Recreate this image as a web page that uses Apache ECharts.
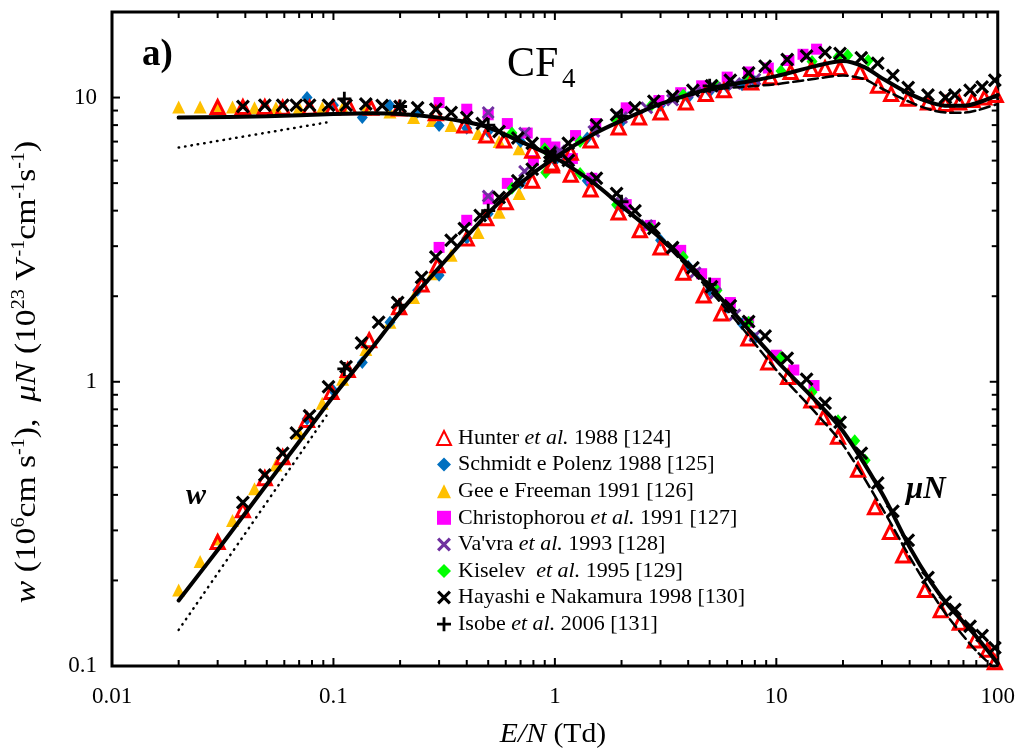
<!DOCTYPE html>
<html>
<head>
<meta charset="utf-8">
<script src="https://cdn.jsdelivr.net/npm/echarts@6/dist/echarts.min.js"></script>
<style>
html,body{margin:0;padding:0;background:#fff;}
#chart{width:1018px;height:751px;}
</style>
</head>
<body>
<div id="chart"></div>
<script>
// ---------- tick values ----------
var xMajorTicks = [0.01, 0.1, 1, 10, 100];
var xMinorTicks = [0.02,0.03,0.04,0.05,0.06,0.07,0.08,0.09,0.2,0.3,0.4,0.5,0.6,0.7,0.8,0.9,2,3,4,5,6,7,8,9,20,30,40,50,60,70,80,90];
var yMajorTicks = [0.1, 1, 10];
var yMinorTicks = [0.2,0.3,0.4,0.5,0.6,0.7,0.8,0.9,2,3,4,5,6,7,8,9];

// ---------- calculated curves ----------
var wCalc = [[0.02,0.17],[0.03,0.256],[0.05,0.435],[0.07,0.615],[0.1,0.89],[0.15,1.32],[0.2,1.76],[0.3,2.52],[0.5,3.92],[0.7,5.0],[1,6.15],[1.5,7.45],[2,8.3],[3,9.5],[5,10.75],[7,11.3],[10,11.9],[15,12.9],[20,13.45],[25,12.8],[30,11.7],[40,10.3],[50,9.6],[60,9.35],[70,9.35],[80,9.55],[100,10.2]];
var muCalc = [[0.02,8.5],[0.05,8.6],[0.1,8.75],[0.15,8.8],[0.2,8.75],[0.3,8.5],[0.4,8.2],[0.5,7.85],[0.7,7.0],[1,6.15],[1.5,5.0],[2,4.15],[3,3.2],[5,2.17],[7,1.62],[10,1.19],[15,0.86],[20,0.67],[30,0.405],[40,0.262],[50,0.197],[60,0.163],[80,0.127],[100,0.102]];
var wDashed = [[3,9.5],[5,10.6],[7,10.9],[10,11.15],[15,11.65],[20,11.95],[25,11.6],[30,10.75],[40,9.65],[50,9.05],[60,8.85],[70,8.85],[80,9.0],[100,9.5]];
var muDashed = [[3,3.18],[5,2.1],[7,1.55],[10,1.1],[15,0.78],[20,0.6],[30,0.36],[40,0.242],[50,0.182],[60,0.148],[80,0.113],[100,0.096]];
var wLowField = [[0.02,0.134],[0.093,0.76]];
var muLowField = [[0.02,6.67],[0.093,8.17]];

// ---------- measured data ----------
var hunterW = [[0.03,0.273],[0.039,0.353],[0.049,0.458],[0.059,0.543],[0.076,0.733],[0.098,0.92],[0.116,1.10],[0.145,1.40],[0.198,1.83],[0.25,2.2],[0.295,2.57],[0.4,3.19],[0.49,3.76],[0.6,4.28],[0.79,5.1],[0.97,5.77],[1.18,6.4],[1.45,7.06],[1.94,7.85],[2.4,8.5],[3.0,8.86],[3.9,9.6],[4.8,10.3],[5.8,10.6],[7.7,11.3],[9.4,11.8],[11.6,12.3],[14.4,12.6],[16.6,12.7],[19.4,12.7],[23.9,12.3],[28.8,11.0],[33,10.3],[39.3,9.9],[48.4,9.6],[58,9.5],[67,9.6],[77,9.8],[87,10.0],[98,10.2]];
var hunterMu = [[0.03,9.26],[0.039,9.26],[0.049,9.26],[0.059,9.2],[0.078,9.2],[0.099,9.2],[0.118,9.25],[0.148,9.2],[0.198,9.15],[0.29,8.8],[0.39,7.97],[0.49,7.35],[0.59,7.06],[0.79,6.5],[0.97,5.86],[1.18,5.35],[1.45,4.75],[1.94,3.94],[2.42,3.41],[3.0,2.97],[3.8,2.42],[4.7,2.01],[5.65,1.74],[7.48,1.42],[9.2,1.17],[11.3,1.04],[14.4,0.86],[16.3,0.75],[19,0.64],[23.4,0.49],[27.9,0.362],[32.6,0.296],[37.4,0.245],[46.9,0.185],[55.3,0.157],[67.4,0.142],[78.8,0.123],[90,0.114],[97,0.103]];
var schmidtW = [[0.076,0.74],[0.1,0.93],[0.135,1.17],[0.18,1.62],[0.24,2.1],[0.3,2.37],[0.4,3.2],[0.5,3.9],[0.7,5.0],[1.0,6.0],[1.4,7.2],[2,8.2],[3,9.4],[4,10.0],[5,10.5],[6,10.9],[7,11.1],[8,11.4]];
var schmidtMu = [[0.076,10.0],[0.1,9.4],[0.135,8.5],[0.18,9.37],[0.24,8.9],[0.3,7.97],[0.4,7.8],[0.5,7.6],[0.7,7.0],[1.0,6.0],[1.4,5.1],[2,4.1],[3,3.15],[4,2.55],[5,2.1],[6,1.83],[7,1.6],[8,1.42]];
var geeW = [[0.02,0.185],[0.025,0.233],[0.03,0.28],[0.035,0.325],[0.044,0.42],[0.055,0.51],[0.07,0.66],[0.089,0.84],[0.11,1.02],[0.14,1.3],[0.18,1.62],[0.23,1.98],[0.28,2.4],[0.34,2.79],[0.45,3.35],[0.56,3.95],[0.69,4.6]];
var geeMu = [[0.02,9.26],[0.025,9.26],[0.03,9.26],[0.035,9.26],[0.044,9.2],[0.055,9.2],[0.07,9.2],[0.089,9.2],[0.11,9.2],[0.14,9.1],[0.18,8.9],[0.23,8.5],[0.28,8.3],[0.34,7.97],[0.45,7.47],[0.56,7.0],[0.69,6.6]];
var christoW = [[0.3,2.97],[0.4,3.7],[0.5,4.4],[0.61,4.99],[0.8,6.0],[1.0,6.7],[1.24,7.35],[1.53,8.1],[2.1,9.2],[2.95,9.76],[3.7,10.4],[4.6,11.0],[6,11.8],[7.5,12.3],[9.2,12.7],[11.4,13.5],[13.2,14.2],[15.2,14.8]];
var christoMu = [[0.3,9.6],[0.4,9.1],[0.5,8.7],[0.61,8.1],[0.75,7.5],[0.91,6.9],[1.2,6.1],[1.47,5.2],[2.1,4.2],[2.7,3.55],[3.7,2.9],[4.6,2.4],[5.3,2.22],[6.2,1.9],[7.5,1.62],[10,1.24],[12,1.1],[14.8,0.97]];
var vavraW = [[0.5,4.5],[0.73,5.5],[1.05,6.5],[1.5,7.6],[2,8.5],[2.6,9.2],[3.4,9.8],[4.3,10.4],[5.3,10.8],[6.5,11.2],[8,11.6]];
var vavraMu = [[0.5,8.86],[0.73,7.5],[1.05,6.3],[1.5,5.05],[2,4.25],[2.6,3.55],[3.4,2.95],[4.3,2.42],[5.3,2.05],[6.5,1.72],[8,1.45]];
var kiselevW = [[0.64,4.8],[0.91,5.45],[1.3,7.0],[1.9,8.3],[2.7,9.3],[3.8,10.2],[5.4,11.0],[7.5,11.7],[10.5,12.4],[14.5,13.4],[19,13.9],[21,14.1],[26,13.5]];
var kiselevMu = [[0.64,7.5],[0.9,6.6],[1.3,5.4],[1.9,4.2],[2.7,3.5],[3.8,2.75],[5.4,2.1],[7.5,1.62],[10.5,1.22],[14.5,0.92],[19,0.73],[22.6,0.62],[25.2,0.53]];
var hayashiW = [[0.039,0.376],[0.049,0.47],[0.059,0.56],[0.068,0.66],[0.078,0.76],[0.095,0.96],[0.114,1.13],[0.134,1.37],[0.16,1.62],[0.195,1.9],[0.25,2.33],[0.29,2.75],[0.34,3.15],[0.39,3.46],[0.46,3.85],[0.56,4.45],[0.68,5.1],[0.79,5.6],[0.95,6.2],[1.15,6.9],[1.54,8.0],[1.9,8.7],[2.3,9.2],[2.8,9.7],[3.4,10.1],[4.2,10.6],[5.1,11.0],[6.2,11.5],[7.5,12.2],[8.9,12.9],[11.2,13.6],[13.7,14.0],[16.6,14.4],[19.4,14.3],[24.2,13.8],[28.7,13.2],[33.6,11.95],[39.4,10.85],[48.4,10.2],[58,10.0],[64,10.2],[75,10.6],[85,10.9],[97,11.5]];
var hayashiMu = [[0.039,9.3],[0.049,9.4],[0.059,9.4],[0.068,9.4],[0.078,9.4],[0.095,9.4],[0.114,9.4],[0.14,9.5],[0.166,9.37],[0.2,9.3],[0.24,9.2],[0.29,9.1],[0.34,8.86],[0.4,8.5],[0.47,8.1],[0.56,7.6],[0.68,7.2],[0.79,6.9],[0.95,6.4],[1.15,6.0],[1.54,5.2],[1.9,4.6],[2.3,4.0],[2.8,3.46],[3.4,2.97],[4.2,2.52],[5.1,2.16],[6.2,1.85],[7.5,1.63],[8.9,1.45],[11.2,1.21],[13.7,1.02],[16.6,0.84],[19.4,0.72],[24.2,0.56],[28.7,0.44],[33.6,0.35],[39.4,0.277],[48.4,0.205],[58,0.168],[64,0.158],[75,0.138],[85,0.128],[97,0.116]];
var isobeW = [[0.112,1.11],[0.2,1.86],[0.5,4.0],[1,6.2],[2,8.6],[5,11.0]];
var isobeMu = [[0.112,9.9],[0.2,9.3],[0.5,8.0],[1,6.2],[2,4.3],[5,2.2]];

var legendNames = [
  'Hunter et al. 1988 [124]',
  'Schmidt e Polenz 1988 [125]',
  'Gee e Freeman 1991 [126]',
  'Christophorou et al. 1991 [127]',
  "Va'vra et al. 1993 [128]",
  'Kiselev  et al. 1995 [129]',
  'Hayashi e Nakamura 1998 [130]',
  'Isobe et al. 2006 [131]'
];

var SERIF = 'Liberation Serif, Times New Roman, serif';
var X_SYM = 'path://M0,1.6L1.6,0L5,3.4L8.4,0L10,1.6L6.6,5L10,8.4L8.4,10L5,6.6L1.6,10L0,8.4L3.4,5Z';
var PLUS_SYM = 'path://M4,0H6V4H10V6H6V10H4V6H0V4H4Z';
var XMIN = 0.01, XMAX = 100, YMIN = 0.1, YMAX = 20;

function scatter(name, data, symbol, size, itemStyle, z) {
  itemStyle.opacity = 1;
  return {type:'scatter', name:name, data:data, symbol:symbol, symbolSize:size,
    itemStyle:itemStyle, z:z||2, silent:true};
}
function line(data, width, type, z) {
  return {type:'line', data:data, showSymbol:false, symbol:'none', smooth:0.3, silent:true,
    lineStyle:{color:'#000', width:width, type:type, cap:'round'}, z:z||5};
}
var xTickData = xMajorTicks.map(function(v){return [v, YMIN, 1];}).concat(xMinorTicks.map(function(v){return [v, YMIN, 0];}));
var yTickData = yMajorTicks.map(function(v){return [XMIN, v, 1];}).concat(yMinorTicks.map(function(v){return [XMIN, v, 0];}));
function xTickRender(params, api) {
  var v = api.value(0), major = api.value(2) === 1;
  var b = api.coord([v, YMIN]), t = api.coord([v, YMAX]);
  var len = major ? 8 : 6;
  var st = {stroke:'#000', lineWidth:2};
  return {type:'group', children:[
    {type:'line', shape:{x1:b[0],y1:b[1],x2:b[0],y2:b[1]-len}, style:st},
    {type:'line', shape:{x1:t[0],y1:t[1],x2:t[0],y2:t[1]+len}, style:st}
  ]};
}
function yTickRender(params, api) {
  var v = api.value(1), major = api.value(2) === 1;
  var l = api.coord([XMIN, v]), r = api.coord([XMAX, v]);
  var len = major ? 8 : 6;
  var st = {stroke:'#000', lineWidth:2};
  return {type:'group', children:[
    {type:'line', shape:{x1:l[0],y1:l[1],x2:l[0]+len,y2:l[1]}, style:st},
    {type:'line', shape:{x1:r[0],y1:r[1],x2:r[0]-len,y2:r[1]}, style:st}
  ]};
}

var chart = echarts.init(document.getElementById('chart'), null, {renderer:'canvas'});
var option = {
  animation:false,
  backgroundColor:'#fff',
  grid:{left:112, right:18, top:12, bottom:85, show:true, borderColor:'#000', borderWidth:3, backgroundColor:'transparent'},
  xAxis:{type:'log', logBase:10, min:XMIN, max:XMAX,
    axisLine:{show:false}, axisTick:{show:false}, splitLine:{show:false},
    axisLabel:{margin:19, color:'#000', fontFamily:SERIF, fontSize:23,
      formatter:function(v){return String(+(+v).toPrecision(3));}}},
  yAxis:{type:'log', logBase:10, min:YMIN, max:YMAX,
    axisLine:{show:false}, axisTick:{show:false}, splitLine:{show:false},
    axisLabel:{margin:15, color:'#000', fontFamily:SERIF, fontSize:23, showMaxLabel:false,
      formatter:function(v){return String(+(+v).toPrecision(3));}}},
  legend:{
    data:legendNames, orient:'vertical', left:431, top:422,
    itemWidth:14, itemHeight:14, itemGap:4.6, selectedMode:false, symbolKeepAspect:true,
    formatter:function(n){return n.replace('et al.', '{i|et al.}');},
    textStyle:{color:'#000', fontFamily:SERIF, fontSize:22, lineHeight:22, padding:[0,0,0,2],
      rich:{i:{fontStyle:'italic', fontFamily:SERIF, fontSize:22, lineHeight:22, color:'#000'}}}
  },
  graphic:[
    {type:'text', left:142, top:37, style:{text:'a)', fontFamily:SERIF, fontSize:37, fontWeight:'bold', fill:'#000'}},
    {type:'text', left:507, top:44, style:{text:'CF', fontFamily:SERIF, fontSize:42, fill:'#000'}},
    {type:'text', left:562, top:66, style:{text:'4', fontFamily:SERIF, fontSize:27, fill:'#000'}},
    {type:'text', left:186, top:481, style:{text:'w', fontFamily:SERIF, fontSize:30, fontStyle:'italic', fontWeight:'bold', fill:'#000'}},
    {type:'text', left:906, top:474, style:{text:'μN', fontFamily:SERIF, fontSize:31, fontStyle:'italic', fontWeight:'bold', fill:'#000'}},
    {type:'text', x:553, y:735, scaleX:1.1, style:{text:'{i|E/N} (Td)', align:'center', verticalAlign:'middle',
      fontFamily:SERIF, fontSize:27, fill:'#000',
      rich:{i:{fontStyle:'italic', fontFamily:SERIF, fontSize:27}}}},
    {type:'text', x:27, y:372, rotation:Math.PI/2, scaleX:1.12, style:{
      text:'{i|w} (10{s|6}cm s{s|-1}),  {i|μN} (10{s|23} V{s|-1}cm{s|-1}s{s|-1})',
      align:'center', verticalAlign:'middle', fontFamily:SERIF, fontSize:30, lineHeight:34, fill:'#000',
      rich:{
        i:{fontStyle:'italic', fontFamily:SERIF, fontSize:30, lineHeight:34},
        s:{fontFamily:SERIF, fontSize:18, lineHeight:18, verticalAlign:'top'}
      }}}
  ],
  series:[
    scatter(legendNames[2], geeW.concat(geeMu), 'triangle', 13, {color:'#FFC000'}),
    scatter(legendNames[1], schmidtW.concat(schmidtMu), 'diamond', [11,13], {color:'#0070C0'}),
    scatter(legendNames[3], christoW.concat(christoMu), 'rect', 11, {color:'#FF00FF'}),
    scatter(legendNames[5], kiselevW.concat(kiselevMu), 'diamond', [11,13], {color:'#00FF00'}),
    scatter(legendNames[4], vavraW.concat(vavraMu), X_SYM, 13, {color:'#7030A0'}),
    scatter(legendNames[0], hunterW.concat(hunterMu), 'triangle', 13, {color:'rgba(255,255,255,0)', borderColor:'#FF0000', borderWidth:3}, 3),
    scatter(legendNames[6], hayashiW.concat(hayashiMu), X_SYM, 14, {color:'#000'}, 3),
    scatter(legendNames[7], isobeW.concat(isobeMu), PLUS_SYM, 14, {color:'#000'}, 3),
    line(wCalc, 4, 'solid'),
    line(muCalc, 4, 'solid'),
    line(wDashed, 2.5, [10,5]),
    line(muDashed, 2.5, [10,5]),
    line(wLowField, 2.5, [0.5,6]),
    line(muLowField, 2.5, [0.5,6]),
    {type:'custom', name:'xticks', data:xTickData, renderItem:xTickRender, silent:true, z:10, clip:false},
    {type:'custom', name:'yticks', data:yTickData, renderItem:yTickRender, silent:true, z:10, clip:false}
  ]
};
chart.setOption(option);
</script>
</body>
</html>
